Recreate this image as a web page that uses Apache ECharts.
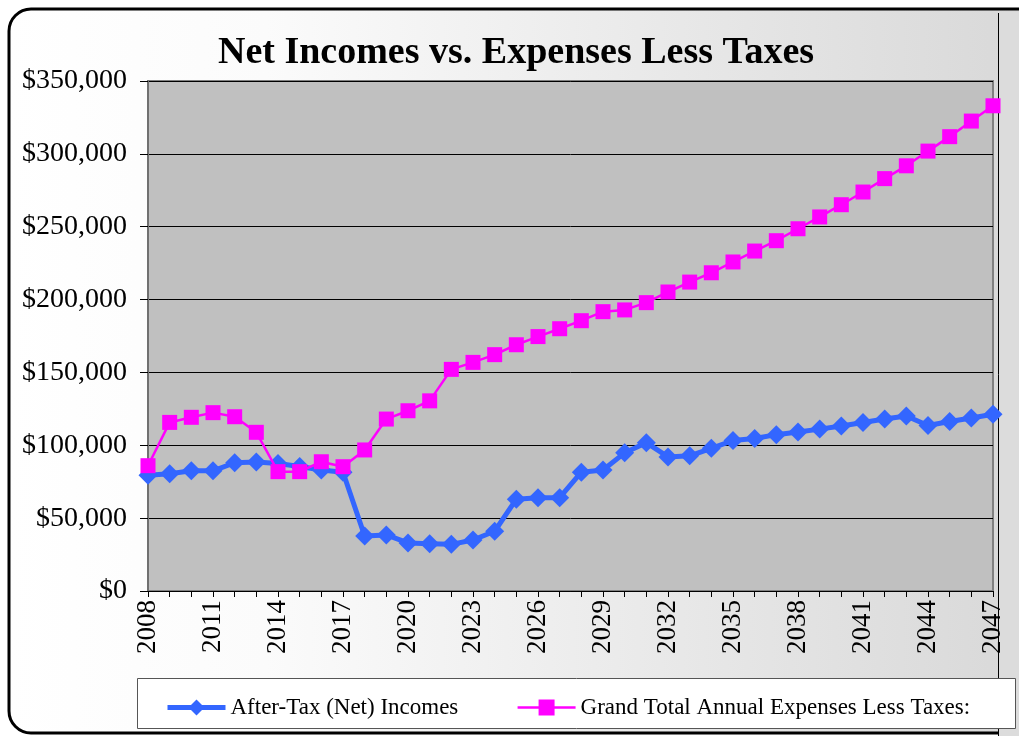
<!DOCTYPE html>
<html>
<head>
<meta charset="utf-8">
<script src="https://cdn.jsdelivr.net/npm/echarts@6/dist/echarts.min.js"></script>
<style>
  html, body { margin: 0; padding: 0; background: #ffffff; }
  #chart { width: 1019px; height: 736px; }
</style>
</head>
<body>
<div id="chart"></div>
<script>
// Years on the horizontal axis
var years = ['2008','2009','2010','2011','2012','2013','2014','2015','2016','2017',
             '2018','2019','2020','2021','2022','2023','2024','2025','2026','2027',
             '2028','2029','2030','2031','2032','2033','2034','2035','2036','2037',
             '2038','2039','2040','2041','2042','2043','2044','2045','2046','2047'];

// After-tax (net) incomes per year
var netIncomes = [79500, 80500, 82500, 82500, 88000, 88500, 87500, 85500, 83000, 81500,
                  37700, 38500, 33000, 32500, 32000, 35000, 41000, 63000, 64000, 64000,
                  81500, 83000, 94800, 101800, 92000, 92800, 97900, 103300, 104600, 107300,
                  109100, 111100, 113300, 115600, 118000, 120100, 113600, 116300, 118700, 121300];

// Grand total annual expenses less taxes per year
var expenses = [86000, 115700, 119200, 122400, 119600, 108900, 81900, 81900, 88700, 85300,
                96800, 118000, 123700, 130500, 152100, 156900, 162200, 169000, 174600, 180000,
                185500, 191700, 192900, 197900, 205200, 212000, 218400, 225800, 233300, 240400,
                248600, 256700, 265100, 273800, 283000, 291800, 301900, 311800, 322500, 333000];

var seriesNames = ['After-Tax (Net) Incomes', 'Grand Total Annual Expenses Less Taxes:'];
var yMin = 0, yMax = 350000, yStep = 50000;

var serif = '"Liberation Serif", "DejaVu Serif", serif';
var chart = echarts.init(document.getElementById('chart'), null, { renderer: 'canvas' });

function money(v) {
  return '$' + v.toLocaleString('en-US');
}

chart.setOption({
  animation: false,
  backgroundColor: 'transparent',
  graphic: [
    // outer framed panel with a soft left-to-right shading
    {
      type: 'rect', z: -10, silent: true,
      shape: { x: 9, y: 9, width: 1030, height: 724, r: 22 },
      style: {
        fill: new echarts.graphic.LinearGradient(0, 0, 1, 0, [
          { offset: 0, color: '#ffffff' },
          { offset: 0.25, color: '#fbfbfb' },
          { offset: 0.95, color: '#dadada' },
          { offset: 1, color: '#d8d8d8' }
        ]),
        stroke: '#000000', lineWidth: 3
      }
    },
    // right-hand strip
    {
      type: 'rect', z: -9, silent: true,
      shape: { x: 998, y: 12, width: 30, height: 730 },
      style: { fill: '#dcdcdc' }
    },
    {
      type: 'line', z: -8, silent: true,
      shape: { x1: 998.5, y1: 13, x2: 998.5, y2: 736 },
      style: { stroke: '#000000', lineWidth: 1 }
    },
    // legend box
    {
      type: 'rect', z: -5, silent: true,
      shape: { x: 137.5, y: 678.5, width: 878, height: 50 },
      style: { fill: '#ffffff', stroke: '#555555', lineWidth: 1 }
    }
  ],
  title: {
    text: 'Net Incomes vs. Expenses Less Taxes',
    left: 511, top: 29, textAlign: 'center',
    textStyle: { fontFamily: serif, fontWeight: 'bold', fontSize: 38, color: '#000000' }
  },
  legend: {
    left: 160, top: 691,
    itemWidth: 58, itemHeight: 20, itemGap: 58,
    textStyle: { fontFamily: serif, fontSize: 23, color: '#000000', padding: [0, 0, 0, 0] },
    data: [
      { name: seriesNames[0], lineStyle: { width: 5 } },
      { name: seriesNames[1], lineStyle: { width: 2.5 } }
    ]
  },
  grid: {
    left: 148, top: 81, right: 26, bottom: 145,
    show: true, backgroundColor: '#c0c0c0', borderColor: '#808080', borderWidth: 2
  },
  xAxis: {
    type: 'category',
    data: years,
    boundaryGap: false,
    axisLine: { lineStyle: { color: '#000000', width: 1 } },
    axisTick: { show: true, length: 6, interval: 0, lineStyle: { color: '#000000' } },
    axisLabel: {
      interval: 2, rotate: 90, margin: 9,
      fontFamily: serif, fontSize: 27, color: '#000000'
    },
    splitLine: { show: false }
  },
  yAxis: {
    type: 'value',
    min: yMin, max: yMax, interval: yStep,
    axisLine: { show: true, lineStyle: { color: '#707070', width: 2 } },
    axisTick: { show: true, length: 8, lineStyle: { color: '#000000' } },
    axisLabel: {
      margin: 21, formatter: money,
      fontFamily: serif, fontSize: 28, color: '#000000'
    },
    splitLine: { show: true, lineStyle: { color: '#000000', width: 1 } }
  },
  series: [
    {
      name: seriesNames[0],
      type: 'line',
      data: netIncomes,
      showAllSymbol: true,
      symbol: 'diamond', symbolSize: 19,
      lineStyle: { color: '#3366ff', width: 5 },
      itemStyle: { color: '#3366ff' },
      z: 2
    },
    {
      name: seriesNames[1],
      type: 'line',
      data: expenses,
      showAllSymbol: true,
      symbol: 'rect', symbolSize: 15,
      lineStyle: { color: '#ff00ff', width: 2.5 },
      itemStyle: { color: '#ff00ff' },
      z: 3
    }
  ]
});
</script>
</body>
</html>
